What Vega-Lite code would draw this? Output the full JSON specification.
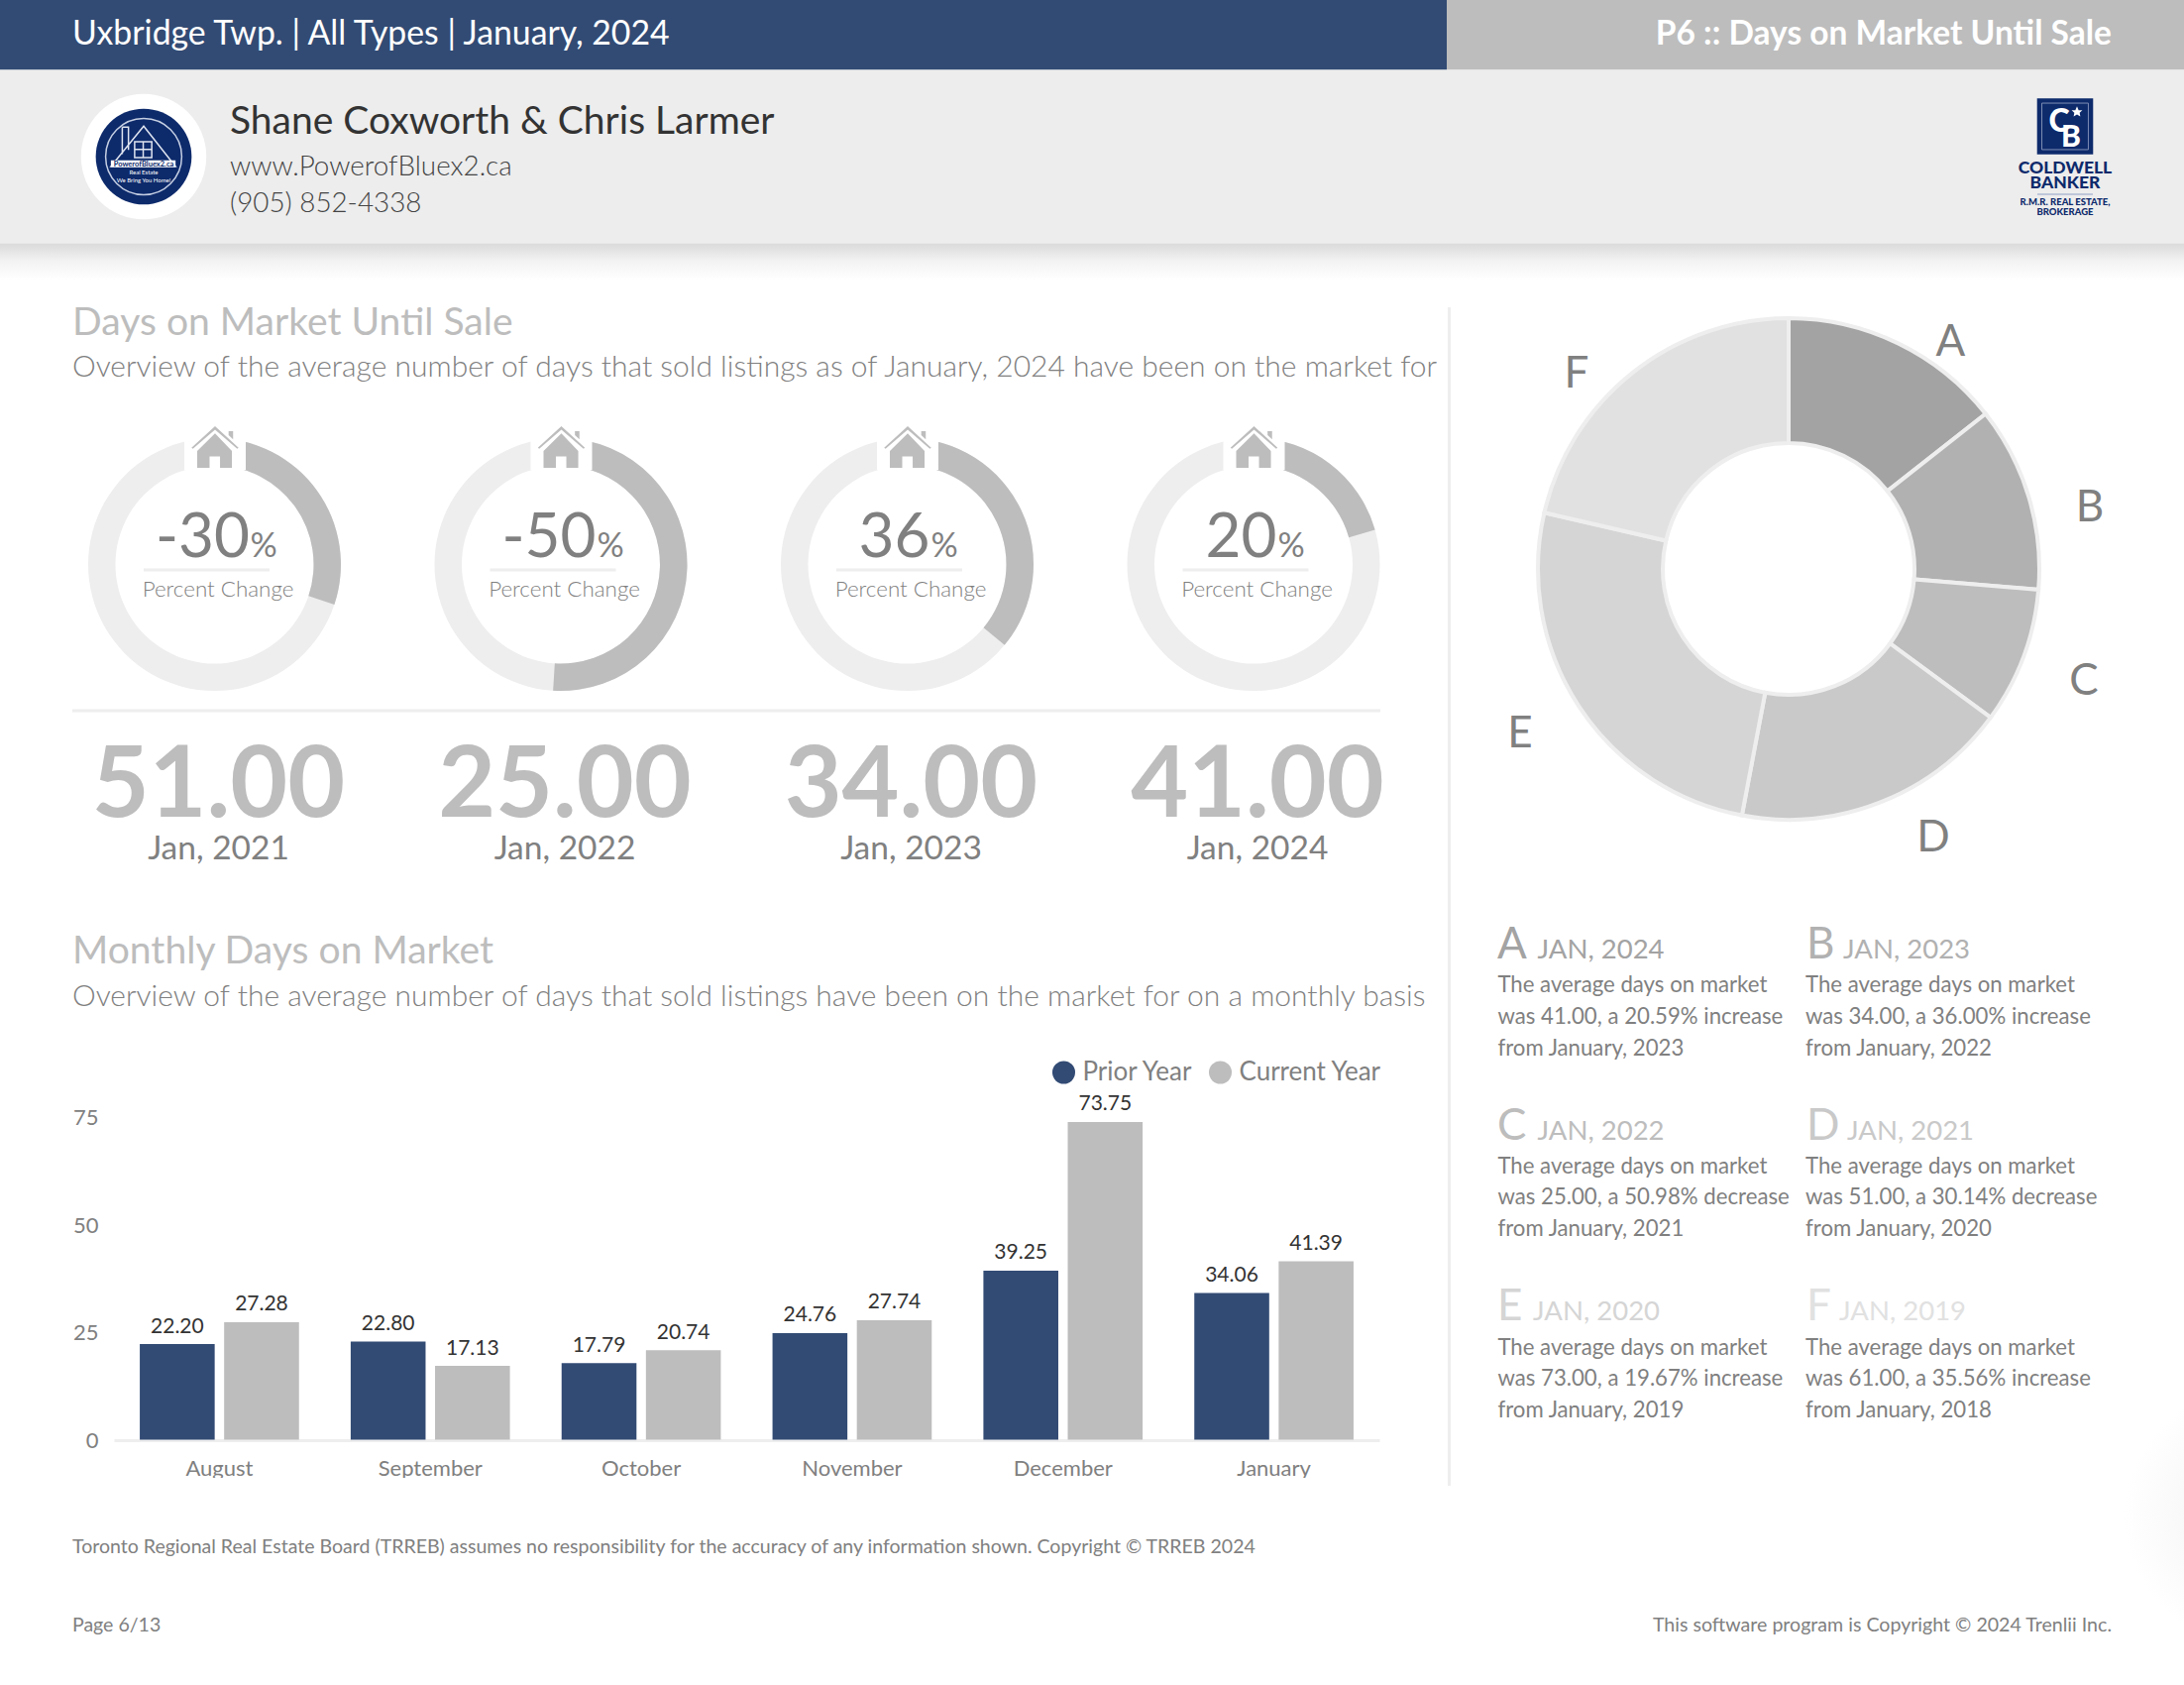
{"$schema":"https://vega.github.io/schema/vega-lite/v6.json","width":2204,"height":1700,"padding":0,"autosize":{"type":"none"},"background":"#ffffff","config":{"font":"Lato","view":{"stroke":null},"text":{"font":"Lato","baseline":"alphabetic"}},"datasets":{"periods":[{"slot":1,"period":"Jan, 2021","days":"51.00","changeLabel":"-30","unit":"%","caption":"Percent Change","start":0,"full":100,"sweep":30.14},{"slot":2,"period":"Jan, 2022","days":"25.00","changeLabel":"-50","unit":"%","caption":"Percent Change","start":0,"full":100,"sweep":50.98},{"slot":3,"period":"Jan, 2023","days":"34.00","changeLabel":"36","unit":"%","caption":"Percent Change","start":0,"full":100,"sweep":36},{"slot":4,"period":"Jan, 2024","days":"41.00","changeLabel":"20","unit":"%","caption":"Percent Change","start":0,"full":100,"sweep":20.59}],"cards":[{"slice":"A","rank":1,"col":1,"row":1,"days":41,"period":"JAN, 2024","line1":"The average days on market","line2":"was 41.00, a 20.59% increase","line3":"from January, 2023"},{"slice":"B","rank":2,"col":2,"row":1,"days":34,"period":"JAN, 2023","line1":"The average days on market","line2":"was 34.00, a 36.00% increase","line3":"from January, 2022"},{"slice":"C","rank":3,"col":1,"row":2,"days":25,"period":"JAN, 2022","line1":"The average days on market","line2":"was 25.00, a 50.98% decrease","line3":"from January, 2021"},{"slice":"D","rank":4,"col":2,"row":2,"days":51,"period":"JAN, 2021","line1":"The average days on market","line2":"was 51.00, a 30.14% decrease","line3":"from January, 2020"},{"slice":"E","rank":5,"col":1,"row":3,"days":73,"period":"JAN, 2020","line1":"The average days on market","line2":"was 73.00, a 19.67% increase","line3":"from January, 2019"},{"slice":"F","rank":6,"col":2,"row":3,"days":61,"period":"JAN, 2019","line1":"The average days on market","line2":"was 61.00, a 35.56% increase","line3":"from January, 2018"}],"monthly":[{"month":"August","series":"Prior Year","days":22.20},{"month":"August","series":"Current Year","days":27.28},{"month":"September","series":"Prior Year","days":22.80},{"month":"September","series":"Current Year","days":17.13},{"month":"October","series":"Prior Year","days":17.79},{"month":"October","series":"Current Year","days":20.74},{"month":"November","series":"Prior Year","days":24.76},{"month":"November","series":"Current Year","days":27.74},{"month":"December","series":"Prior Year","days":39.25},{"month":"December","series":"Current Year","days":73.75},{"month":"January","series":"Prior Year","days":34.06},{"month":"January","series":"Current Year","days":41.39}]},"resolve":{"scale":{"x":"independent","y":"independent","color":"independent","theta":"independent","xOffset":"independent"}},"layer":[
{"data":{"values":[{"element":"title band"}]},"mark":{"type":"rect","color":"#324b74"},"encoding":{"x":{"datum":0,"axis":null,"scale":{"domain":[0,1],"range":[0,1460]}},"x2":{"datum":1},"y":{"datum":0,"axis":null,"scale":{"domain":[0,1],"range":[0,70.5]}},"y2":{"datum":1}}},
{"data":{"values":[{"element":"page band"}]},"mark":{"type":"rect","color":"#bdbdbd"},"encoding":{"x":{"datum":0,"axis":null,"scale":{"domain":[0,1],"range":[1460,2204]}},"x2":{"datum":1},"y":{"datum":0,"axis":null,"scale":{"domain":[0,1],"range":[0,70.5]}},"y2":{"datum":1}}},
{"data":{"values":[{"element":"contact band"}]},"mark":{"type":"rect","color":"#ededed"},"encoding":{"x":{"datum":0,"axis":null,"scale":{"domain":[0,1],"range":[0,2204]}},"x2":{"datum":1},"y":{"datum":0,"axis":null,"scale":{"domain":[0,1],"range":[70.5,245.5]}},"y2":{"datum":1}}},
{"data":{"values":[{"element":"band shadow"}]},"mark":{"type":"rect","color":{"gradient":"linear","x1":0,"y1":0,"x2":0,"y2":1,"stops":[{"offset":0,"color":"#dadada"},{"offset":0.5,"color":"#f3f3f3"},{"offset":1,"color":"#ffffff"}]}},"encoding":{"x":{"datum":0,"axis":null,"scale":{"domain":[0,1],"range":[0,2204]}},"x2":{"datum":1},"y":{"datum":0,"axis":null,"scale":{"domain":[0,1],"range":[245.5,282]}},"y2":{"datum":1}}},
{"data":{"values":[{"element":"corner shadow"}]},"mark":{"type":"rect","color":{"gradient":"radial","x1":1,"y1":0.5,"r1":0,"x2":1,"y2":0.5,"r2":0.5,"stops":[{"offset":0,"color":"#f1f1f1"},{"offset":1,"color":"#ffffff"}]}},"encoding":{"x":{"datum":0,"axis":null,"scale":{"domain":[0,1],"range":[2084,2204]}},"x2":{"datum":1},"y":{"datum":0,"axis":null,"scale":{"domain":[0,1],"range":[1400,1660]}},"y2":{"datum":1}}},
{"data":{"values":[{"label":"Uxbridge Twp. | All Types | January, 2024"}]},"mark":{"type":"text","align":"left","fontSize":33.8,"color":"#ffffff"},"encoding":{"text":{"field":"label"},"x":{"datum":0,"axis":null,"scale":{"domain":[0,1],"range":[73,74]}},"y":{"datum":0,"axis":null,"scale":{"domain":[0,1],"range":[45,46]}}}},
{"data":{"values":[{"label":"P6 :: Days on Market Until Sale"}]},"mark":{"type":"text","align":"right","fontSize":33.5,"fontWeight":700,"color":"#ffffff"},"encoding":{"text":{"field":"label"},"x":{"datum":0,"axis":null,"scale":{"domain":[0,1],"range":[2131,2132]}},"y":{"datum":0,"axis":null,"scale":{"domain":[0,1],"range":[45,46]}}}},
{"data":{"values":[{"label":"Shane Coxworth & Chris Larmer"}]},"mark":{"type":"text","align":"left","fontSize":39,"color":"#333333"},"encoding":{"text":{"field":"label"},"x":{"datum":0,"axis":null,"scale":{"domain":[0,1],"range":[232,233]}},"y":{"datum":0,"axis":null,"scale":{"domain":[0,1],"range":[135,136]}}}},
{"data":{"values":[{"line":1,"label":"www.PowerofBluex2.ca"},{"line":2,"label":"(905) 852-4338"}]},"mark":{"type":"text","align":"left","fontSize":27.8,"fontWeight":300,"color":"#444444"},"encoding":{"text":{"field":"label"},"x":{"datum":0,"axis":null,"scale":{"domain":[0,1],"range":[232,233]}},"y":{"field":"line","type":"quantitative","axis":null,"scale":{"domain":[1,2],"range":[177,214]}}}},
{"data":{"values":[{"element":"logo"}]},"encoding":{"x":{"datum":0,"axis":null,"scale":{"domain":[0,1],"range":[145,146]}},"y":{"datum":0,"axis":null,"scale":{"domain":[0,1],"range":[158,159]}}},"layer":[
{"mark":{"type":"point","shape":"circle","filled":true,"size":16000,"color":"#ffffff","opacity":1}},
{"mark":{"type":"point","shape":"circle","filled":true,"size":9350,"color":"#0d2a6b","opacity":1}},
{"mark":{"type":"point","shape":"circle","filled":false,"size":5900,"color":"#c5cfe3","strokeWidth":1.5,"opacity":1}},
{"mark":{"type":"point","shape":"M0,-.64 L-.69,.21 L.67,.21 Z M-.45,-.62 H-.32 V-.14 M-.45,-.62 V-.05 M-.19,-.31 H.17 V.02 H-.19 Z M-.01,-.31 V.02 M-.19,-.15 H.17","filled":false,"size":9216,"color":"#dfe5f0","strokeWidth":1.5,"opacity":1}},
{"mark":{"type":"point","shape":"M-.69,.08 H.67 L.67,.22 H-.69 Z","filled":true,"size":9216,"color":"#ffffff","opacity":1}}]},
{"data":{"values":[{"line":1,"label":"PowerofBluex2.ca"}]},"mark":{"type":"text","fontSize":7.5,"fontWeight":700,"color":"#0d2a6b"},"encoding":{"text":{"field":"label"},"x":{"datum":0,"axis":null,"scale":{"domain":[0,1],"range":[145,146]}},"y":{"datum":0,"axis":null,"scale":{"domain":[0,1],"range":[167.5,168.5]}}}},
{"data":{"values":[{"line":1,"label":"Real Estate"},{"line":2,"label":"We Bring You Home!"}]},"mark":{"type":"text","fontSize":6,"color":"#ffffff"},"encoding":{"text":{"field":"label"},"x":{"datum":0,"axis":null,"scale":{"domain":[0,1],"range":[145,146]}},"y":{"field":"line","type":"quantitative","axis":null,"scale":{"domain":[1,2],"range":[176,184]}}}},
{"data":{"values":[{"element":"broker mark"}]},"encoding":{"x":{"datum":0,"axis":null,"scale":{"domain":[0,1],"range":[2084,2085]}},"y":{"datum":0,"axis":null,"scale":{"domain":[0,1],"range":[127.5,128.5]}}},"layer":[
{"mark":{"type":"point","shape":"square","filled":true,"size":3200,"color":"#0d2a6b","opacity":1}},
{"mark":{"type":"point","shape":"square","filled":false,"size":2200,"color":"#7f8fb5","strokeWidth":1,"opacity":1}}]},
{"data":{"values":[{"glyph":"C"}]},"mark":{"type":"text","fontSize":32,"fontWeight":900,"color":"#ffffff"},"encoding":{"text":{"field":"glyph"},"x":{"datum":0,"axis":null,"scale":{"domain":[0,1],"range":[2078,2079]}},"y":{"datum":0,"axis":null,"scale":{"domain":[0,1],"range":[133,134]}}}},
{"data":{"values":[{"glyph":"B"}]},"mark":{"type":"text","fontSize":30,"fontWeight":900,"color":"#ffffff"},"encoding":{"text":{"field":"glyph"},"x":{"datum":0,"axis":null,"scale":{"domain":[0,1],"range":[2090,2091]}},"y":{"datum":0,"axis":null,"scale":{"domain":[0,1],"range":[148,149]}}}},
{"data":{"values":[{"element":"star"}]},"mark":{"type":"point","shape":"M0,-1 L.29,-.31 L.95,-.31 L.47,.12 L.59,.81 L0,.45 L-.59,.81 L-.47,.12 L-.95,-.31 L-.29,-.31 Z","filled":true,"size":130,"color":"#ffffff","opacity":1},"encoding":{"x":{"datum":0,"axis":null,"scale":{"domain":[0,1],"range":[2096,2097]}},"y":{"datum":0,"axis":null,"scale":{"domain":[0,1],"range":[113,114]}}}},
{"data":{"values":[{"line":1,"label":"COLDWELL"},{"line":2,"label":"BANKER"}]},"mark":{"type":"text","fontSize":17.5,"fontWeight":900,"color":"#0d2a6b"},"encoding":{"text":{"field":"label"},"x":{"datum":0,"axis":null,"scale":{"domain":[0,1],"range":[2084,2085]}},"y":{"field":"line","type":"quantitative","axis":null,"scale":{"domain":[1,2],"range":[175,190]}}}},
{"data":{"values":[{"line":1,"label":"R.M.R. REAL ESTATE,"},{"line":2,"label":"BROKERAGE"}]},"mark":{"type":"text","fontSize":9.5,"fontWeight":900,"color":"#0d2a6b"},"encoding":{"text":{"field":"label"},"x":{"datum":0,"axis":null,"scale":{"domain":[0,1],"range":[2084,2085]}},"y":{"field":"line","type":"quantitative","axis":null,"scale":{"domain":[1,2],"range":[207,217]}}}},
{"data":{"values":[{"element":"broker rule"}]},"mark":{"type":"rule","color":"#8fa0c4","strokeWidth":1},"encoding":{"x":{"datum":0,"axis":null,"scale":{"domain":[0,1],"range":[2056,2112]}},"x2":{"datum":1},"y":{"datum":0,"axis":null,"scale":{"domain":[0,1],"range":[196,197]}}}},
{"data":{"values":[{"line":1,"label":"Days on Market Until Sale"},{"line":2,"label":"Monthly Days on Market"}]},"mark":{"type":"text","align":"left","fontSize":39.1,"color":"#bdbdbd"},"encoding":{"text":{"field":"label"},"x":{"datum":0,"axis":null,"scale":{"domain":[0,1],"range":[73,74]}},"y":{"field":"line","type":"quantitative","axis":null,"scale":{"domain":[1,2],"range":[338,972]}}}},
{"data":{"values":[{"line":1,"label":"Overview of the average number of days that sold listings as of January, 2024 have been on the market for"},{"line":2,"label":"Overview of the average number of days that sold listings have been on the market for on a monthly basis"}]},"mark":{"type":"text","align":"left","fontSize":30,"fontWeight":300,"color":"#808080"},"encoding":{"text":{"field":"label"},"x":{"datum":0,"axis":null,"scale":{"domain":[0,1],"range":[73,74]}},"y":{"field":"line","type":"quantitative","axis":null,"scale":{"domain":[1,2],"range":[380,1015]}}}},
{"data":{"values":[{"element":"column divider"}]},"mark":{"type":"rule","color":"#eeeeee","strokeWidth":3},"encoding":{"x":{"datum":0,"axis":null,"scale":{"domain":[0,1],"range":[1462.5,1463.5]}},"y":{"datum":0,"axis":null,"scale":{"domain":[0,1],"range":[310,1499]}},"y2":{"datum":1}}},
{"data":{"values":[{"element":"gauge divider"}]},"mark":{"type":"rule","color":"#eeeeee","strokeWidth":3},"encoding":{"x":{"datum":0,"axis":null,"scale":{"domain":[0,1],"range":[73,1393]}},"x2":{"datum":1},"y":{"datum":0,"axis":null,"scale":{"domain":[0,1],"range":[717,718]}}}},
{"data":{"name":"periods"},"mark":{"type":"arc","radius":127.5,"radius2":100,"color":"#eeeeee"},"encoding":{"x":{"field":"slot","type":"quantitative","axis":null,"scale":{"domain":[1,4],"range":[216.5,1265]}},"y":{"field":"start","type":"quantitative","axis":null,"scale":{"domain":[0,1],"range":[569.5,570.5]}},"theta":{"field":"start","type":"quantitative","scale":{"domain":[0,100],"range":[0,6.28318]}},"theta2":{"field":"full"}}},
{"data":{"name":"periods"},"mark":{"type":"arc","radius":127.5,"radius2":100,"color":"#bdbdbd"},"encoding":{"x":{"field":"slot","type":"quantitative","axis":null,"scale":{"domain":[1,4],"range":[216.5,1265]}},"y":{"field":"start","type":"quantitative","axis":null,"scale":{"domain":[0,1],"range":[569.5,570.5]}},"theta":{"field":"start","type":"quantitative","scale":{"domain":[0,100],"range":[0,6.28318]}},"theta2":{"field":"sweep"}}},
{"data":{"name":"periods"},"mark":{"type":"point","shape":"square","filled":true,"size":3844,"color":"#ffffff","opacity":1},"encoding":{"x":{"field":"slot","type":"quantitative","axis":null,"scale":{"domain":[1,4],"range":[217,1265.5]}},"y":{"datum":0,"axis":null,"scale":{"domain":[0,1],"range":[443,444]}}}},
{"data":{"name":"periods"},"mark":{"type":"point","shape":"M0,-.875 L.99,.03 L.93,.07 L0,-.73 L-.93,.07 L-.99,.03 Z M0,-.57 L.71,.17 V.875 H.21 V.4 H-.23 V.875 H-.75 V.17 Z M.57,-.67 H.76 V-.32 L.57,-.5 Z","filled":true,"size":2304,"color":"#bdbdbd","opacity":1},"encoding":{"x":{"field":"slot","type":"quantitative","axis":null,"scale":{"domain":[1,4],"range":[217,1265.5]}},"y":{"datum":0,"axis":null,"scale":{"domain":[0,1],"range":[451,452]}}}},
{"data":{"name":"periods"},"mark":{"type":"text","align":"right","fontSize":62,"color":"#808080"},"encoding":{"text":{"field":"changeLabel"},"x":{"field":"slot","type":"quantitative","axis":null,"scale":{"domain":[1,2,3,4],"range":[252,601.5,938.5,1288.5]}},"y":{"datum":0,"axis":null,"scale":{"domain":[0,1],"range":[562,563]}}}},
{"data":{"name":"periods"},"mark":{"type":"text","align":"left","fontSize":34,"color":"#808080"},"encoding":{"text":{"field":"unit"},"x":{"field":"slot","type":"quantitative","axis":null,"scale":{"domain":[1,2,3,4],"range":[252.5,602.5,939.5,1289.5]}},"y":{"datum":0,"axis":null,"scale":{"domain":[0,1],"range":[562,563]}}}},
{"data":{"name":"periods"},"mark":{"type":"point","shape":"M-1,-.024 H1 V.024 H-1 Z","filled":true,"size":16129,"color":"#eeeeee","opacity":1},"encoding":{"x":{"field":"slot","type":"quantitative","axis":null,"scale":{"domain":[1,4],"range":[208.5,1257]}},"y":{"datum":0,"axis":null,"scale":{"domain":[0,1],"range":[575,576]}}}},
{"data":{"name":"periods"},"mark":{"type":"text","fontSize":22.4,"fontWeight":300,"color":"#808080"},"encoding":{"text":{"field":"caption"},"x":{"field":"slot","type":"quantitative","axis":null,"scale":{"domain":[1,4],"range":[220,1268.5]}},"y":{"datum":0,"axis":null,"scale":{"domain":[0,1],"range":[602,603]}}}},
{"data":{"name":"periods"},"mark":{"type":"text","fontSize":100,"fontWeight":700,"color":"#bdbdbd"},"encoding":{"text":{"field":"days"},"x":{"field":"slot","type":"quantitative","axis":null,"scale":{"domain":[1,4],"range":[220.5,1269]}},"y":{"datum":0,"axis":null,"scale":{"domain":[0,1],"range":[824,825]}}}},
{"data":{"name":"periods"},"mark":{"type":"text","fontSize":33.5,"color":"#808080"},"encoding":{"text":{"field":"period"},"x":{"field":"slot","type":"quantitative","axis":null,"scale":{"domain":[1,4],"range":[220.5,1269]}},"y":{"datum":0,"axis":null,"scale":{"domain":[0,1],"range":[867,868]}}}},
{"data":{"name":"cards"},"mark":{"type":"arc","radius":253,"radius2":127,"stroke":"#eeeeee","strokeWidth":4},"encoding":{"x":{"datum":0,"axis":null,"scale":{"domain":[0,1],"range":[1805,1806]}},"y":{"datum":0,"axis":null,"scale":{"domain":[0,1],"range":[574,575]}},"theta":{"field":"days","type":"quantitative","stack":true,"scale":{"range":[0,6.28318]}},"order":{"field":"rank","type":"quantitative"},"color":{"field":"slice","type":"nominal","legend":null,"scale":{"domain":["A","B","C","D","E","F"],"range":["#a3a3a3","#b1b1b1","#bdbdbd","#c9c9c9","#d5d5d5","#e1e1e1"]}}}},
{"data":{"name":"cards"},"mark":{"type":"text","fontSize":44,"baseline":"middle","color":"#808080"},"encoding":{"text":{"field":"slice"},"x":{"field":"rank","type":"quantitative","axis":null,"scale":{"domain":[1,2,3,4,5,6],"range":[1968.5,2109,2103,1951,1534,1591]}},"y":{"field":"rank","type":"quantitative","axis":null,"scale":{"domain":[1,2,3,4,5,6],"range":[346,513,688,846,741,378]}}}},
{"data":{"name":"cards"},"mark":{"type":"text","align":"left","fontSize":44},"encoding":{"text":{"field":"slice"},"x":{"field":"col","type":"quantitative","axis":null,"scale":{"domain":[1,2],"range":[1511,1823]}},"y":{"field":"row","type":"quantitative","axis":null,"scale":{"domain":[1,2,3],"range":[967,1150,1332]}},"color":{"field":"slice","type":"nominal","legend":null,"scale":{"domain":["A","B","C","D","E","F"],"range":["#a3a3a3","#b1b1b1","#bdbdbd","#c9c9c9","#d5d5d5","#e1e1e1"]}}}},
{"data":{"name":"cards"},"mark":{"type":"text","align":"left","fontSize":27.5},"encoding":{"text":{"field":"period"},"x":{"field":"rank","type":"quantitative","axis":null,"scale":{"domain":[1,2,3,4,5,6],"range":[1551.5,1860,1551.5,1864,1547,1856]}},"y":{"field":"row","type":"quantitative","axis":null,"scale":{"domain":[1,2,3],"range":[967,1150,1332]}},"color":{"field":"slice","type":"nominal","legend":null,"scale":{"domain":["A","B","C","D","E","F"],"range":["#a3a3a3","#b1b1b1","#bdbdbd","#c9c9c9","#d5d5d5","#e1e1e1"]}}}},
{"data":{"name":"cards"},"mark":{"type":"text","align":"left","fontSize":22.2,"color":"#808080"},"encoding":{"text":{"field":"line1"},"x":{"field":"col","type":"quantitative","axis":null,"scale":{"domain":[1,2],"range":[1511.4,1822]}},"y":{"field":"row","type":"quantitative","axis":null,"scale":{"domain":[1,2,3],"range":[1001,1184,1367]}}}},
{"data":{"name":"cards"},"mark":{"type":"text","align":"left","fontSize":22.2,"color":"#808080"},"encoding":{"text":{"field":"line2"},"x":{"field":"col","type":"quantitative","axis":null,"scale":{"domain":[1,2],"range":[1511.4,1822]}},"y":{"field":"row","type":"quantitative","axis":null,"scale":{"domain":[1,2,3],"range":[1033,1215,1398]}}}},
{"data":{"name":"cards"},"mark":{"type":"text","align":"left","fontSize":22.2,"color":"#808080"},"encoding":{"text":{"field":"line3"},"x":{"field":"col","type":"quantitative","axis":null,"scale":{"domain":[1,2],"range":[1511.4,1822]}},"y":{"field":"row","type":"quantitative","axis":null,"scale":{"domain":[1,2,3],"range":[1064.5,1246.5,1429.5]}}}},
{"data":{"name":"monthly"},"encoding":{"x":{"field":"month","type":"nominal","sort":["August","September","October","November","December","January"],"scale":{"range":[115,1392],"paddingInner":0.245,"paddingOuter":0.1225},"axis":{"orient":"bottom","offset":-247,"title":null,"labelAngle":0,"ticks":false,"grid":false,"domainColor":"#eeeeee","domainWidth":3,"labelFont":"Lato","labelFontSize":22,"labelColor":"#808080","labelPadding":18}},"xOffset":{"field":"series","type":"nominal","sort":["Prior Year","Current Year"],"scale":{"paddingInner":0.112}},"y":{"field":"days","type":"quantitative","stack":null,"scale":{"domain":[0,75],"range":[1452.5,1126.5]},"axis":{"orient":"left","offset":-115,"title":null,"values":[0,25,50,75],"domain":false,"ticks":false,"grid":false,"labelFont":"Lato","labelFontSize":22,"labelColor":"#808080","labelPadding":16,"labelOffset":1}},"color":{"field":"series","type":"nominal","scale":{"domain":["Prior Year","Current Year"],"range":["#324b74","#bdbdbd"]},"legend":{"orient":"none","legendX":1060.5,"legendY":1069,"direction":"horizontal","title":null,"symbolType":"circle","symbolSize":529,"symbolOpacity":1,"labelFont":"Lato","labelFontSize":26,"labelColor":"#808080","labelOffset":6,"columnPadding":14,"symbolStrokeWidth":0}}},"layer":[
{"mark":{"type":"bar"}},
{"mark":{"type":"text","fontSize":21,"dy":-11.5},"encoding":{"text":{"field":"days","type":"quantitative","format":".2f"},"color":{"value":"#333333"}}}]},
{"data":{"values":[{"element":"axis label edge"}]},"mark":{"type":"rect","color":"#ffffff"},"encoding":{"x":{"datum":0,"axis":null,"scale":{"domain":[0,1],"range":[110,1400]}},"x2":{"datum":1},"y":{"datum":0,"axis":null,"scale":{"domain":[0,1],"range":[1491,1515]}},"y2":{"datum":1}}},
{"data":{"values":[{"line":1,"label":"Toronto Regional Real Estate Board (TRREB) assumes no responsibility for the accuracy of any information shown. Copyright © TRREB 2024"},{"line":2,"label":"Page 6/13"}]},"mark":{"type":"text","align":"left","fontSize":19.55,"color":"#808080"},"encoding":{"text":{"field":"label"},"x":{"datum":0,"axis":null,"scale":{"domain":[0,1],"range":[73,74]}},"y":{"field":"line","type":"quantitative","axis":null,"scale":{"domain":[1,2],"range":[1567,1645.5]}}}},
{"data":{"values":[{"label":"This software program is Copyright © 2024 Trenlii Inc."}]},"mark":{"type":"text","align":"right","fontSize":19.6,"color":"#808080"},"encoding":{"text":{"field":"label"},"x":{"datum":0,"axis":null,"scale":{"domain":[0,1],"range":[2131,2132]}},"y":{"datum":0,"axis":null,"scale":{"domain":[0,1],"range":[1645.5,1646.5]}}}}
]}
